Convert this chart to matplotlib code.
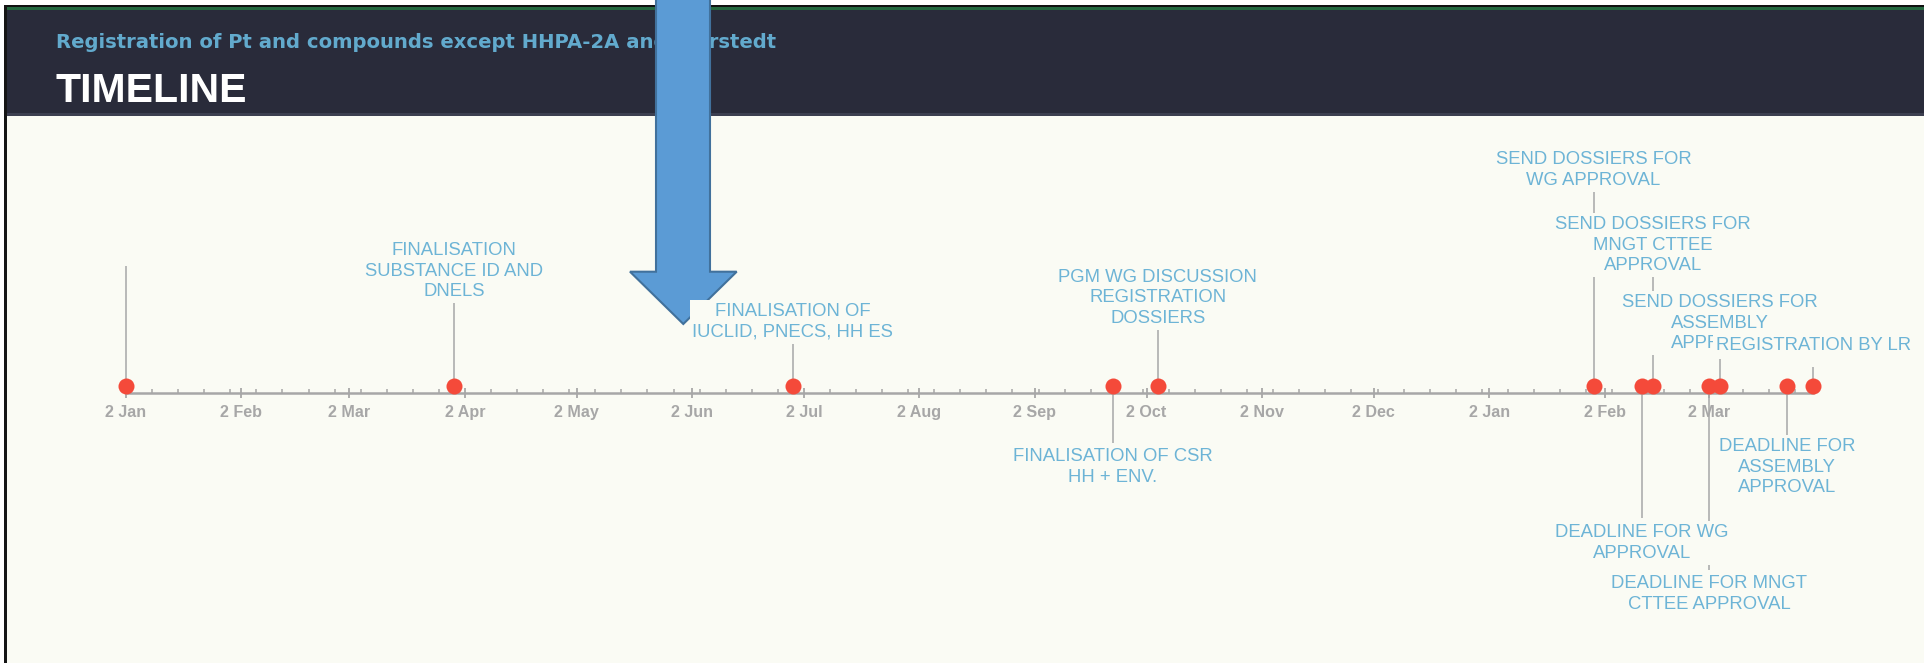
import matplotlib
matplotlib.use("Agg")
import matplotlib.pyplot as plt
import matplotlib.dates as mdates
from matplotlib.patches import Rectangle, Polygon
from matplotlib.ticker import FuncFormatter
import numpy as np

plt.rcParams['font.family'] = ['Liberation Sans', 'DejaVu Sans']

W, H = 1933, 663

subtitle = "Registration of Pt and compounds except HHPA-2A and Worstedt"
title = "TIMELINE"

event_dates = np.array([
    '2016-01-02', '2016-03-30', '2016-06-29', '2016-09-23', '2016-10-05',
    '2017-01-30', '2017-02-12', '2017-02-15', '2017-03-02', '2017-03-05',
    '2017-03-23', '2017-03-30',
], dtype='datetime64[D]')

event_labels = [
    "",
    "FINALISATION\nSUBSTANCE ID AND\nDNELS",
    "FINALISATION OF\nIUCLID, PNECS, HH ES",
    "FINALISATION OF CSR\nHH + ENV.",
    "PGM WG DISCUSSION\nREGISTRATION\nDOSSIERS",
    "SEND DOSSIERS FOR\nWG APPROVAL",
    "DEADLINE FOR WG\nAPPROVAL",
    "SEND DOSSIERS FOR\nMNGT CTTEE\nAPPROVAL",
    "DEADLINE FOR MNGT\nCTTEE APPROVAL",
    "SEND DOSSIERS FOR\nASSEMBLY\nAPPROVAL",
    "DEADLINE FOR\nASSEMBLY\nAPPROVAL",
    "REGISTRATION BY LR",
]

# layout (pixel rows): where each label block is centred and where its stem stops
label_rows = [266, 271, 322, 467, 298, 170, 543, 245, 594, 323, 467, 345]
stem_ends = [266, 297, 343, 443, 322, 188, 518, 273, 570, 359, 437, 367]

axis_row = 392.7
dot_row = 386

cream = '#fafbf4'
label_blue = '#6db4d6'
grey = '#a7a7a7'

fig = plt.figure(figsize=(W / 100, H / 100), dpi=100)
fig.patch.set_facecolor('white')

# frame, header band and big arrow, drawn in pixel units
bg = fig.add_axes([0, 0, 1, 1])
bg.set_xlim(0, W)
bg.set_ylim(H, 0)
bg.axis('off')
bg.add_patch(Rectangle((5, 10), 1919, H - 10, facecolor=cream, edgecolor='none'))
bg.add_patch(Rectangle((5, 10), 1919, 103.5, facecolor='#292b3a', edgecolor='none'))
bg.add_patch(Rectangle((5, 113.3), 1919, 2.7, facecolor='#3c3f50', edgecolor='none'))
bg.add_patch(Rectangle((5, 5), 1919, 2, facecolor='#111111', edgecolor='none'))
bg.add_patch(Rectangle((5, 7), 1919, 3, facecolor='#24683f', edgecolor='none'))
bg.add_patch(Rectangle((4, 5), 3.3, H - 5, facecolor='#151515', edgecolor='none'))

bg.text(56, 48.5, subtitle, color='#62aacd', fontsize=14.1, fontweight='bold',
        family='DejaVu Sans', va='baseline', ha='left')
bg.text(56, 102, title, color='white', fontsize=29.5, fontweight='bold',
        va='baseline', ha='left')

arrow = Polygon([(656, -5), (710, -5), (710, 271.7), (736.7, 271.7),
                 (683.3, 324), (630, 271.7), (656, 271.7)],
                closed=True, facecolor='#5b9bd5', edgecolor='#41719c',
                linewidth=1.5, zorder=10)
bg.add_patch(arrow)

# the timeline itself
x = mdates.date2num(event_dates)
x_left = 126
x_right = 1813.3
ax = fig.add_axes([x_left / W, 0, (x_right - x_left) / W, 1])
ax.set_facecolor('none')
ax.set_ylim(H, 0)
ax.set_xlim(x[0], x[-1])

for side in ['left', 'right', 'top']:
    ax.spines[side].set_visible(False)
ax.spines['bottom'].set_position(('data', axis_row))
ax.spines['bottom'].set_color(grey)
ax.spines['bottom'].set_linewidth(1.8)
ax.yaxis.set_visible(False)

ax.xaxis.set_major_locator(mdates.MonthLocator(bymonthday=2))
ax.xaxis.set_minor_locator(mdates.WeekdayLocator(byweekday=mdates.SA))
ax.xaxis.set_major_formatter(FuncFormatter(
    lambda v, p: f"{mdates.num2date(v).day} {mdates.num2date(v):%b}"))
ax.tick_params(axis='x', which='major', direction='inout', length=7, width=1.3,
               color=grey, labelcolor=grey, labelsize=11.6, pad=5)
ax.tick_params(axis='x', which='minor', direction='in', length=2.8, width=1.1,
               color=grey)
for t in ax.xaxis.get_major_ticks():
    t.label1.set_fontweight('bold')

ax.vlines(x, dot_row, stem_ends, colors='#b3b3b3', linewidth=1.3, zorder=1,
          clip_on=False)
ax.scatter(x, np.full(len(x), dot_row), s=133, color='#f44a3a', linewidths=0,
           zorder=5, clip_on=False)

for xi, ly, txt in zip(x, label_rows, event_labels):
    if not txt:
        continue
    ax.text(xi, ly, txt, ha='center', va='center', fontsize=13.3,
            color=label_blue, linespacing=1.3, zorder=3,
            bbox=dict(boxstyle='square,pad=0.15', facecolor=cream,
                      edgecolor='none'))

fig.savefig('out.png', dpi=100, facecolor=fig.get_facecolor())
